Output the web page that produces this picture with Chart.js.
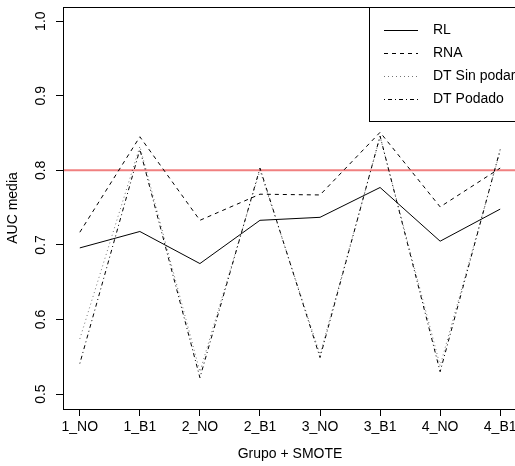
<!DOCTYPE html>
<html>
<head>
<meta charset="utf-8">
<script src="https://cdn.jsdelivr.net/npm/chart.js@4/dist/chart.umd.min.js"></script>
<style>
  html, body { margin: 0; padding: 0; background: #fff; overflow: hidden; }
</style>
</head>
<body>
<canvas id="myChart" width="530" height="466"></canvas>
<script>
var groups = ['1_NO', '1_B1', '2_NO', '2_B1', '3_NO', '3_B1', '4_NO', '4_B1'];

var rl = [0.696, 0.718, 0.675, 0.733, 0.737, 0.777, 0.705, 0.748];
var rna = [0.717, 0.845, 0.733, 0.768, 0.767, 0.851, 0.751, 0.803];
var dtSinPodar = [0.574, 0.832, 0.530, 0.800, 0.553, 0.845, 0.538, 0.826];
var dtPodado = [0.541, 0.828, 0.522, 0.803, 0.549, 0.846, 0.530, 0.828];

var yTicks = [0.5, 0.6, 0.7, 0.8, 0.9, 1.0];
var refLine = 0.8;

var FONT = '"Liberation Sans", Arial, sans-serif';

function pts(arr) {
  return arr.map(function (v, i) { return { x: i + 1, y: v }; });
}

// R style extras: full box, abline, rotated y labels, legend
var rExtras = {
  id: 'rExtras',
  beforeDatasetsDraw: function (chart) {
    var c = chart.ctx, a = chart.chartArea, y = chart.scales.y;
    var py = y.getPixelForValue(refLine);
    c.save();
    c.strokeStyle = '#F08080';
    c.lineWidth = 2;
    c.beginPath();
    c.moveTo(a.left, py);
    c.lineTo(a.right, py);
    c.stroke();
    c.restore();
  },
  afterDraw: function (chart) {
    var c = chart.ctx, a = chart.chartArea, y = chart.scales.y;
    c.save();
    c.strokeStyle = '#000';
    c.lineWidth = 1;
    c.strokeRect(a.left + 0.5, a.top + 0.5, a.right - a.left, a.bottom - a.top);

    // y tick labels, rotated like R
    c.fillStyle = '#000';
    c.font = '14px ' + FONT;
    c.textAlign = 'center';
    c.textBaseline = 'middle';
    yTicks.forEach(function (v) {
      c.save();
      c.translate(41, y.getPixelForValue(v));
      c.rotate(-Math.PI / 2);
      c.fillText(v.toFixed(1), 0, 0);
      c.restore();
    });

    // legend
    var lx = 369, ly = 7;
    c.fillStyle = '#fff';
    c.fillRect(lx + 0.5, ly + 0.5, 200, 114);
    c.strokeRect(lx + 0.5, ly + 0.5, 200, 114);
    chart.data.datasets.forEach(function (ds, i) {
      var ry = 30 + i * 23;
      c.strokeStyle = ds.borderColor;
      c.lineWidth = 1;
      c.setLineDash(ds.borderDash || []);
      c.beginPath();
      c.moveTo(384, ry + 0.5);
      c.lineTo(418, ry + 0.5);
      c.stroke();
      c.setLineDash([]);
      c.fillStyle = '#000';
      c.textAlign = 'left';
      c.fillText(ds.label, 433, ry);
    });
    c.restore();
  }
};

var ctx = document.getElementById('myChart');

var myChart = new Chart(ctx, {
  type: 'line',
  data: {
    datasets: [
      { label: 'RL', data: pts(rl), borderColor: '#000', borderWidth: 1, pointRadius: 0 },
      { label: 'RNA', data: pts(rna), borderColor: '#000', borderWidth: 1, borderDash: [4, 4], pointRadius: 0 },
      { label: 'DT Sin podar', data: pts(dtSinPodar), borderColor: 'rgba(0,0,0,0.55)', borderWidth: 1, borderDash: [1, 3], pointRadius: 0 },
      { label: 'DT Podado', data: pts(dtPodado), borderColor: '#000', borderWidth: 1, borderDash: [1, 3, 4, 3], pointRadius: 0 }
    ]
  },
  options: {
    responsive: false,
    animation: false,
    devicePixelRatio: 1,
    layout: { padding: { top: 7, right: 13, left: 0, bottom: 0 } },
    plugins: { legend: { display: false }, tooltip: { enabled: false } },
    elements: { line: { tension: 0 } },
    scales: {
      x: {
        type: 'linear',
        min: 0.72,
        max: 8.28,
        afterBuildTicks: function (s) {
          s.ticks = groups.map(function (g, i) { return { value: i + 1 }; });
        },
        afterFit: function (s) {
          s.height = 57;
          s.paddingLeft = 0;
          s.paddingRight = 0;
        },
        border: { display: false },
        grid: { drawOnChartArea: false, drawTicks: true, tickLength: 7, color: '#000' },
        ticks: {
          autoSkip: false,
          maxRotation: 0,
          padding: 3,
          color: '#000',
          font: { family: FONT, size: 14 },
          callback: function (v) { return groups[v - 1]; }
        },
        title: {
          display: true,
          text: 'Grupo + SMOTE',
          color: '#000',
          padding: 3,
          font: { family: FONT, size: 14 }
        }
      },
      y: {
        min: 0.48,
        max: 1.019,
        afterBuildTicks: function (s) {
          s.ticks = yTicks.map(function (v) { return { value: v }; });
        },
        afterFit: function (s) {
          s.width = 63;
          s.paddingTop = 0;
          s.paddingBottom = 0;
        },
        border: { display: false },
        grid: { drawOnChartArea: false, drawTicks: true, tickLength: 7, color: '#000' },
        ticks: { display: false },
        title: {
          display: true,
          text: 'AUC media',
          color: '#000',
          padding: 5,
          font: { family: FONT, size: 14 }
        }
      }
    }
  },
  plugins: [rExtras]
});
</script>
</body>
</html>
